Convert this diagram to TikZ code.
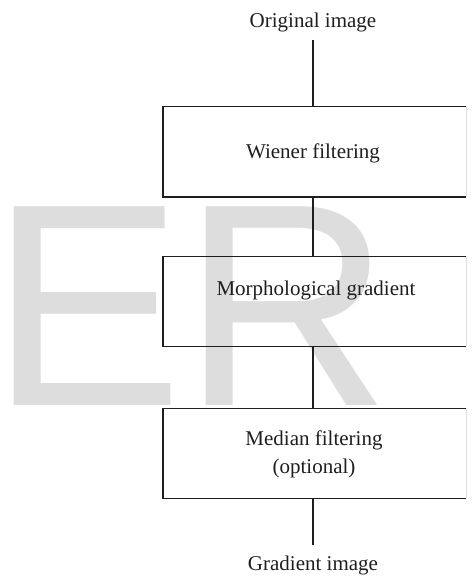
\documentclass[tikz,border=0pt]{standalone}
\usepackage{fontspec}
\setmainfont{Liberation Serif}
\newfontfamily\wmfont{Liberation Sans}
\definecolor{wm}{RGB}{221,221,221}
\definecolor{ink}{RGB}{30,30,30}
\begin{document}
\begin{tikzpicture}[x=1pt,y=-1pt,
  lbl/.style={inner sep=0pt,text=ink,font=\fontsize{21}{28}\selectfont,align=center},
  blk/.style={draw=none,minimum width=303pt,minimum height=90pt,inner sep=0pt},
  edge3/.style={line width=1.4pt,draw=ink},
  conn/.style={line width=1.4pt,draw=ink}]
\useasboundingbox (0,0) rectangle (473,577);
\node[anchor=base west,inner sep=0pt,text=wm,font=\wmfont\fontsize{289}{289}\selectfont] (wmk) at (-10,405) {ER};
% labels
\node[lbl] (orig) at (313,22) {Original image};
\node[lbl] (grad) at (313,565) {Gradient image};
% boxes
\node[blk] (wiener) at (314.5,152) {};
\node[blk] (morph) at (314.5,301.5) {};
\node[blk] (median) at (314.5,453.5) {};
\foreach \b in {wiener,morph,median}{
  \draw[edge3] (\b.north east) -- (\b.north west) -- (\b.south west) -- (\b.south east);
  \draw[line width=1pt,black!12] (\b.north east) -- (\b.south east);
}
\node[lbl] (twiener) at (313,153) {Wiener filtering};
\node[lbl] (tmorph) at (316,290) {Morphological gradient};
\node[lbl] (tmedian) at (314,454) {Median filtering\\(optional)};
% connectors
\coordinate (o1) at (313,40);
\coordinate (g1) at (313,545);
\draw[conn] (o1) -- (o1 |- wiener.north);
\draw[conn] (wiener.south -| o1) -- (morph.north -| o1);
\draw[conn] (morph.south -| o1) -- (median.north -| o1);
\draw[conn] (median.south -| o1) -- (g1);
\end{tikzpicture}
\end{document}
